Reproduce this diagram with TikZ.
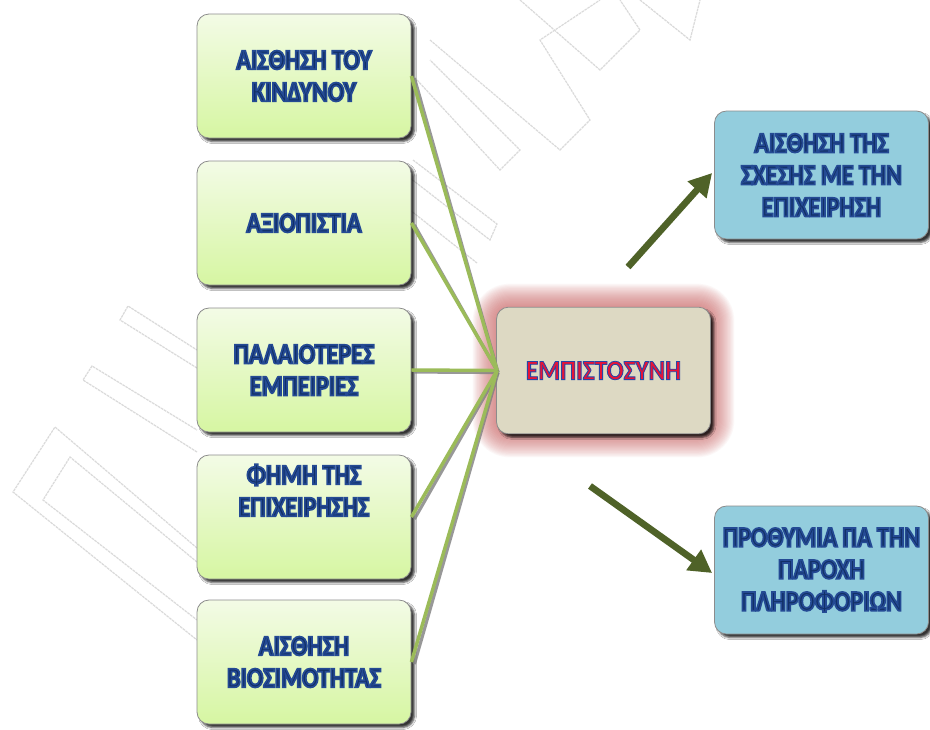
\documentclass[tikz,border=0pt]{standalone}
\usepackage{fontspec}
\newfontfamily\boxfont{Carlito}[UprightFont={* Bold}, FakeStretch=0.84, FakeBold=6]
\newfontfamily\titlefont{Carlito}[UprightFont={* Bold}, FakeStretch=0.9, FakeBold=3]
\usetikzlibrary{arrows.meta,shadows.blur,calc}
\pagecolor{white}

\definecolor{leafTop}{HTML}{F3FBE6}
\definecolor{leafBot}{HTML}{D6F6A2}
\definecolor{skyFill}{HTML}{93CDDD}
\definecolor{sandFill}{HTML}{DDD9C3}
\definecolor{linkGreen}{HTML}{9BBB59}
\definecolor{linkShade}{HTML}{7F7F7F}
\definecolor{arrowOlive}{HTML}{4F6228}
\definecolor{haloRed}{HTML}{D06A6A}
\definecolor{edgeGray}{HTML}{8C8C8C}
\definecolor{markGray}{HTML}{DADADA}

% letters filled with one colour and rimmed with another (fill rgb, stroke rgb)
\newcommand{\navy}[1]{\special{pdf:bcolor [0.07 0.19 0.40] [0.14 0.29 0.58]}#1\special{pdf:ecolor}}
\newcommand{\redblue}[1]{\special{pdf:bcolor [0.90 0.08 0.22] [0.15 0.28 0.66]}#1\special{pdf:ecolor}}

\tikzset{
  cardbase/.style={rounded corners=9pt, draw=edgeGray, line width=0.6pt,
    minimum width=160.5pt, minimum height=93pt, inner sep=0pt,
    align=center, font=\boxfont\fontsize{21.5}{24}\selectfont,
    blur shadow={shadow xshift=2.6pt, shadow yshift=-2.6pt, shadow blur radius=1.6pt, shadow opacity=80}},
  leafcard/.style={cardbase, top color=leafTop, bottom color=leafBot},
  skycard/.style={cardbase, fill=skyFill, minimum height=96pt},
  sandcard/.style={cardbase, fill=sandFill, minimum height=95pt},
  linkshade/.style={draw=linkShade, line width=2.4pt, opacity=0.8},
  linkline/.style={draw=linkGreen, line width=2.6pt},
  bigarrow/.style={draw=arrowOlive, line width=5pt,
    -{Triangle[length=17pt,width=18pt]}},
  faintmark/.style={draw=markGray, line width=0.9pt, dash pattern=on 2pt off 0.6pt, line join=miter}
}

\begin{document}
\begin{tikzpicture}[x=0.75pt, y=-0.75pt]
\useasboundingbox (0,0) rectangle (930,729);
\fill[white] (-30,-30) rectangle (960,760);

% faint outlined bands in the background
\draw[faintmark] (197,548) -- (55,427) -- (13,492) -- (197,640);
\draw[faintmark] (197,562) -- (70,457) -- (43,500) -- (197,620);
\draw[faintmark] (197,452) -- (83,380) -- (92,366) -- (197,430);
\draw[faintmark] (197,368) -- (120,320) -- (128,306) -- (197,350);
\draw[faintmark] (417,80) -- (500,170) -- (520,150) -- (430,60);
\draw[faintmark] (413,160) -- (497,224) -- (490,240) -- (410,178);
\draw[faintmark] (410,210) -- (477,263);
\draw[faintmark] (430,40) -- (560,150) -- (590,120) -- (540,40) -- (600,0);
\draw[faintmark] (520,0) -- (600,70) -- (640,30) -- (620,0);
\draw[faintmark] (640,0) -- (690,40) -- (700,0);

% red halo behind the central card
\foreach \g in {1,...,22}{
  \fill[haloRed, opacity=0.05]
    [rounded corners={10+0.8*\g}]
    ({497-1.1*\g},{308-1.1*\g}) rectangle ({710+1.1*\g},{433+1.1*\g});
}

% factor cards
\node[leafcard] (risk)    at (304,76)  {\navy{ΑΙΣΘΗΣΗ ΤΟΥ}\\\navy{ΚΙΝΔΥΝΟΥ}};
\node[leafcard] (cred)    at (304,223) {\navy{ΑΞΙΟΠΙΣΤΙΑ}};
\node[leafcard] (past)    at (304,370) {\navy{ΠΑΛΑΙΟΤΕΡΕΣ}\\\navy{ΕΜΠΕΙΡΙΕΣ}};
\node[leafcard] (fame)    at (304,517) {\navy{ΦΗΜΗ ΤΗΣ}\\\navy{ΕΠΙΧΕΙΡΗΣΗΣ}\\[16pt]};
\node[leafcard] (sustain) at (304,662) {\navy{ΑΙΣΘΗΣΗ}\\\navy{ΒΙΟΣΙΜΟΤΗΤΑΣ}};

% central card
\node[sandcard, font=\titlefont\fontsize{21}{23}\selectfont] (trust) at (603.5,370.5)
  {\redblue{ΕΜΠΙΣΤΟΣΥΝΗ}};

% outcome cards
\node[skycard] (bond)  at (821.5,175) {\navy{ΑΙΣΘΗΣΗ ΤΗΣ}\\\navy{ΣΧΕΣΗΣ ΜΕ ΤΗΝ}\\\navy{ΕΠΙΧΕΙΡΗΣΗ}};
\node[skycard] (share) at (821.5,570) {\navy{ΠΡΟΘΥΜΙΑ Γ\kern-1.5ptΙΑ ΤΗΝ}\\\navy{ΠΑΡΟΧΗ}\\\navy{ΠΛΗΡΟΦΟΡΙΩΝ}};

% connectors from the factors to trust
\coordinate (hub) at ($(trust.west)+(1,0)$);
\foreach \src in {risk,cred,past,fame,sustain}{
  \draw[linkshade] ($(\src.east)+(3,2)$) -- ($(hub)+(1,2)$);
}
\foreach \src in {risk,cred,past,fame,sustain}{
  \draw[linkline] (\src.east) -- (hub);
}

% outcome arrows
\coordinate (upTail) at (628,267);
\coordinate (dnTail) at (590,486);
\draw[bigarrow] (upTail) -- ($(bond.west)+(-2,-2)$);
\draw[bigarrow] (dnTail) -- ($(share.west)+(-2,3)$);
\end{tikzpicture}
\end{document}
